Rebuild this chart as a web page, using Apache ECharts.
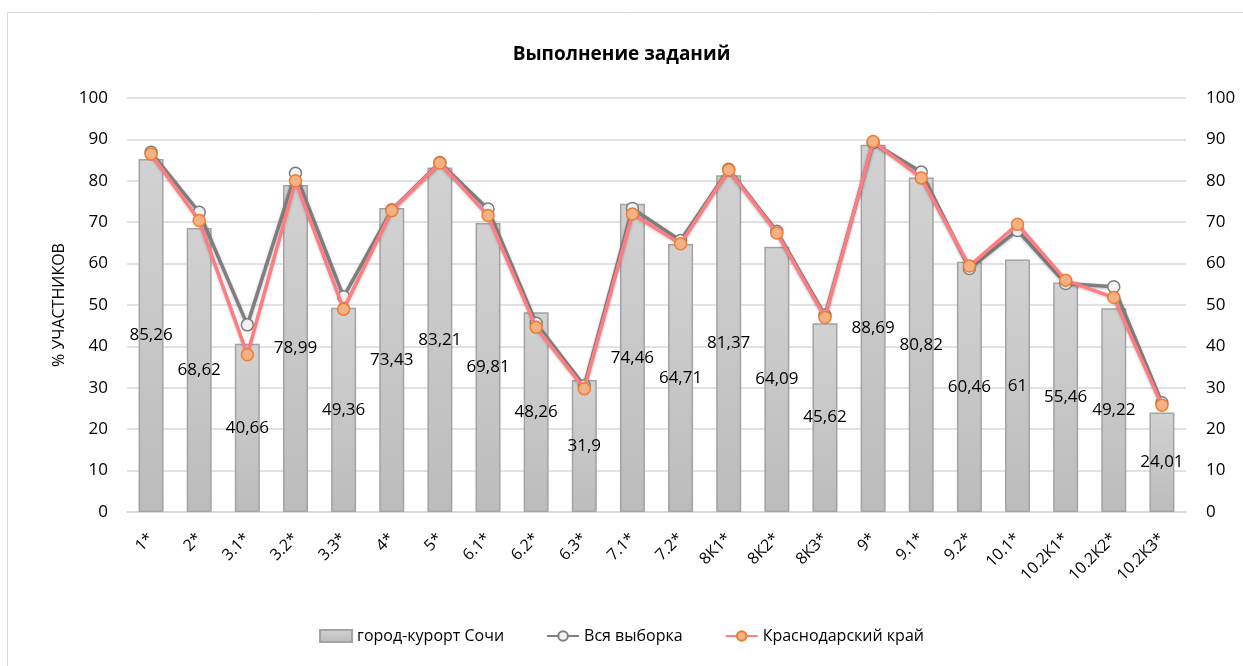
<!DOCTYPE html>
<html>
<head>
<meta charset="utf-8">
<script src="https://cdn.jsdelivr.net/npm/echarts@6/dist/echarts.min.js"></script>
<style>
  html, body { margin: 0; padding: 0; background: #fff; }
  #chart { width: 1243px; height: 666px; }
</style>
</head>
<body>
<div id="chart"></div>
<script>
const categories = ['1*', '2*', '3.1*', '3.2*', '3.3*', '4*', '5*', '6.1*', '6.2*', '6.3*', '7.1*', '7.2*',
  '8К1*', '8К2*', '8К3*', '9*', '9.1*', '9.2*', '10.1*', '10.2К1*', '10.2К2*', '10.2К3*']
const sochi = [85.26, 68.62, 40.66, 78.99, 49.36, 73.43, 83.21, 69.81, 48.26, 31.9, 74.46, 64.71,
  81.37, 64.09, 45.62, 88.69, 80.82, 60.46, 61, 55.46, 49.22, 24.01]
const allSample = [86.9, 72.4, 45.2, 81.8, 52.0, 73.0, 84.4, 73.2, 45.6, 30.5, 73.3, 65.6,
  82.8, 67.8, 47.5, 89.2, 82.1, 58.8, 68.0, 55.2, 54.4, 26.4]
const krasnodar = [86.5, 70.4, 38.0, 80.0, 49.0, 72.8, 84.3, 71.6, 44.6, 29.8, 72.0, 64.8,
  82.6, 67.4, 47.0, 89.5, 80.7, 59.4, 69.5, 56.0, 51.8, 25.8]
const yTicks = [0, 10, 20, 30, 40, 50, 60, 70, 80, 90, 100]

const font = '"Open Sans", "Noto Sans", sans-serif'
const chart = echarts.init(document.getElementById('chart'))

const option = {
  animation: false,
  textStyle: { fontFamily: font },
  graphic: [
    {
      type: 'rect',
      shape: { x: 7.5, y: 12.5, width: 1250, height: 700 },
      style: { fill: 'none', stroke: '#d9d9d9', lineWidth: 1 },
      silent: true
    }
  ],
  title: {
    text: 'Выполнение заданий',
    left: 'center',
    top: 40,
    textStyle: { fontFamily: font, fontSize: 19, fontWeight: 'bold', color: '#000' }
  },
  legend: {
    bottom: 17,
    left: 'center',
    itemGap: 42,
    itemWidth: 32,
    itemHeight: 12,
    textStyle: { fontFamily: font, fontSize: 16, color: '#000' },
    data: [
      { name: 'город-курорт Сочи', icon: 'rect' },
      { name: 'Вся выборка' },
      { name: 'Краснодарский край' }
    ]
  },
  grid: {
    left: 127,
    right: 57,
    top: 98,
    bottom: 154,
    containLabel: false
  },
  xAxis: {
    type: 'category',
    data: categories,
    axisTick: { show: false },
    axisLine: { lineStyle: { color: '#d9d9d9', width: 1.5 } },
    axisLabel: { rotate: 45, fontSize: 16, color: '#000', margin: 24, interval: 0 }
  },
  yAxis: [
    {
      type: 'value',
      min: 0,
      max: 100,
      interval: 10,
      name: '% УЧАСТНИКОВ',
      nameLocation: 'middle',
      nameGap: 60,
      nameTextStyle: { fontFamily: font, fontSize: 16, color: '#000' },
      axisLine: { show: false },
      axisTick: { show: false },
      axisLabel: { fontSize: 17, color: '#000', margin: 19,
        formatter: v => yTicks.includes(v) ? String(v) : '' },
      splitLine: { lineStyle: { color: '#d9d9d9', width: 1.5 } }
    },
    {
      type: 'value',
      position: 'right',
      min: 0,
      max: 100,
      interval: 10,
      axisLine: { show: false },
      axisTick: { show: false },
      axisLabel: { fontSize: 17, color: '#000', margin: 20,
        formatter: v => yTicks.includes(v) ? String(v) : '' },
      splitLine: { show: false }
    }
  ],
  series: [
    {
      name: 'город-курорт Сочи',
      type: 'bar',
      barWidth: 25,
      data: sochi,
      itemStyle: {
        color: new echarts.graphic.LinearGradient(0, 0, 0, 1, [
          { offset: 0, color: '#d2d2d2' },
          { offset: 1, color: '#bcbcbc' }
        ]),
        borderColor: '#a3a3a3',
        borderWidth: 1.5
      },
      label: {
        show: true,
        position: 'inside',
        fontSize: 17,
        color: '#000',
        formatter: p => String(p.value).replace('.', ',')
      },
      z: 2
    },
    {
      name: 'Вся выборка',
      type: 'line',
      data: allSample,
      symbol: 'circle',
      symbolSize: 12,
      lineStyle: { color: '#7f7f7f', width: 3.5,
        shadowColor: 'rgba(0,0,0,0.25)', shadowBlur: 3, shadowOffsetY: 1 },
      itemStyle: { color: '#f2f2f2', borderColor: '#7f7f7f', borderWidth: 1.5 },
      z: 3
    },
    {
      name: 'Краснодарский край',
      type: 'line',
      data: krasnodar,
      symbol: 'circle',
      symbolSize: 12,
      lineStyle: { color: '#ff7c80', width: 3.5,
        shadowColor: 'rgba(0,0,0,0.2)', shadowBlur: 3, shadowOffsetY: 1 },
      itemStyle: { color: '#f4b183', borderColor: '#ed7d31', borderWidth: 1.5 },
      z: 4
    }
  ]
}

chart.setOption(option)
</script>
</body>
</html>
